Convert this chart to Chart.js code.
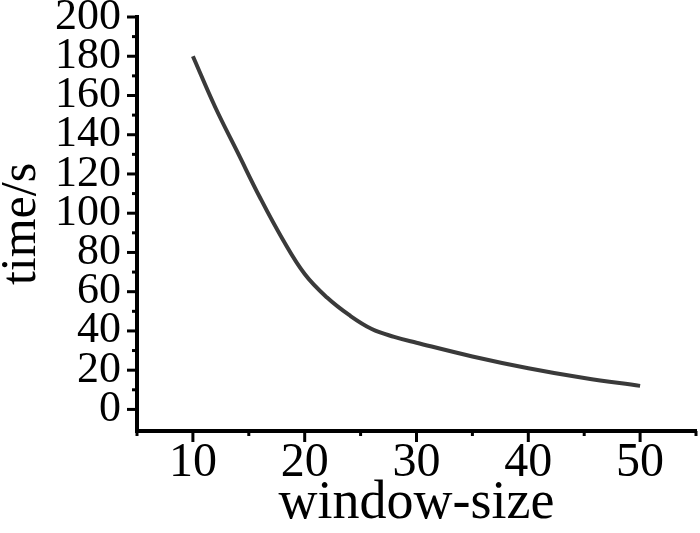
<!DOCTYPE html>
<html>
<head>
<meta charset="utf-8">
<script src="https://cdn.jsdelivr.net/npm/chart.js@4/dist/chart.umd.min.js"></script>
<style>
  html, body { margin: 0; padding: 0; background: #fff; }
  #wrap { width: 700px; height: 533px; position: relative; }
</style>
</head>
<body>
<div id="wrap"><canvas id="timeChart"></canvas></div>
<script>
const windowSizes = [10, 12, 14, 16, 18, 20, 22, 24, 26, 28, 30, 35, 40, 45, 50];
const timeSeconds = [180, 154, 131, 108, 87, 69, 57, 48, 41, 37, 34, 27, 21, 16, 12];

const serif = '"Liberation Serif", "Times New Roman", serif';

// draws major + minor tick marks outside the axes
const tickMarks = {
  id: 'tickMarks',
  afterDraw(chart) {
    const ctx = chart.ctx;
    const xs = chart.scales.x, ys = chart.scales.y;
    ctx.save();
    ctx.strokeStyle = '#000';
    ctx.lineWidth = 3;
    xs.ticks.forEach(t => {
      if (t.value % 5 !== 0) return;
      const px = xs.getPixelForValue(t.value);
      const len = t.value % 10 === 0 ? 11 : 5;
      ctx.beginPath();
      ctx.moveTo(px, xs.top);
      ctx.lineTo(px, xs.top + len);
      ctx.stroke();
    });
    ys.ticks.forEach(t => {
      if (t.value % 10 !== 0 || t.value < 0) return;
      const py = ys.getPixelForValue(t.value);
      const len = t.value % 20 === 0 ? 10 : 5;
      ctx.beginPath();
      ctx.moveTo(ys.right, py);
      ctx.lineTo(ys.right - len, py);
      ctx.stroke();
    });
    ctx.restore();
  }
};

new Chart(document.getElementById('timeChart'), {
  type: 'line',
  data: {
    datasets: [{
      data: windowSizes.map((w, i) => ({ x: w, y: timeSeconds[i] })),
      borderColor: '#3a3a3a',
      borderWidth: 4,
      pointRadius: 0,
      tension: 0.4,
      fill: false
    }]
  },
  options: {
    responsive: true,
    maintainAspectRatio: false,
    animation: false,
    layout: { padding: { top: 17, right: -8, left: 0, bottom: 0 } },
    plugins: {
      legend: { display: false },
      tooltip: { enabled: false }
    },
    scales: {
      x: {
        type: 'linear',
        min: 5,
        max: 55,
        grid: { drawOnChartArea: false, drawTicks: false },
        border: { display: true, color: '#000', width: 4 },
        ticks: {
          stepSize: 5,
          autoSkip: false,
          maxRotation: 0,
          padding: 4,
          color: '#000',
          font: { family: serif, size: 48 },
          callback: v => (v % 10 === 0 ? v : '')
        },
        title: {
          display: true,
          text: 'window-size',
          color: '#000',
          font: { family: serif, size: 54 },
          padding: { top: 0, bottom: -3 }
        },
        afterFit(scale) { scale.height = 102; }
      },
      y: {
        min: -11,
        max: 200,
        grid: { drawOnChartArea: false, drawTicks: false },
        border: { display: true, color: '#000', width: 4 },
        ticks: {
          stepSize: 10,
          autoSkip: false,
          padding: 16,
          color: '#000',
          font: { family: serif, size: 44, lineHeight: 0.75 },
          callback: v => (v % 20 === 0 ? v : '')
        },
        title: {
          display: true,
          text: 'time/s',
          color: '#000',
          font: { family: serif, size: 50 },
          padding: { top: -8, bottom: 0 }
        },
        afterFit(scale) {
          scale.width = 137;
          scale.paddingTop = 0;
          scale.paddingBottom = 0;
        }
      }
    }
  },
  plugins: [tickMarks]
});
</script>
</body>
</html>
